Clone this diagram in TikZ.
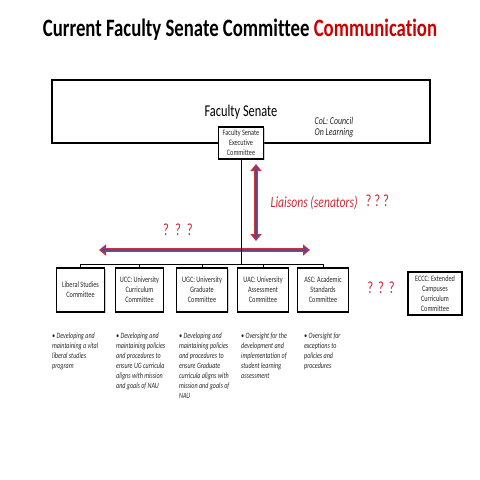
\documentclass[tikz,border=0pt]{standalone}
\usepackage{fontspec}
\setmainfont{Carlito}[Ligatures=NoCommon]
\usetikzlibrary{arrows.meta,shadows,calc}
\definecolor{tred}{RGB}{204,0,0}
\definecolor{lred}{RGB}{200,45,55}
\definecolor{arrred}{RGB}{205,50,60}
\definecolor{arrpur}{RGB}{100,70,140}
\definecolor{txtgray}{RGB}{40,40,40}
\tikzset{
  sq/.style={xscale=0.75},
  boxshadow/.style={drop shadow={shadow xshift=1.2pt,shadow yshift=-1.2pt,opacity=0.35,fill=gray}},
  cbox/.style={sq,draw=black,line width=1.1pt,fill=white,align=center,inner sep=1pt,
     font=\fontsize{8.3}{10}\selectfont,text=txtgray,boxshadow},
  bul/.style={sq,anchor=north west,align=left,inner sep=0pt,
     font=\fontsize{8.1}{10}\selectfont\itshape,text=txtgray},
  qm/.style={sq,text=lred,font=\fontsize{17}{20}\selectfont},
  conn/.style={draw=black,line width=0.9pt},
  redarr/.style={draw=arrred,line width=4.6pt,{Triangle[length=7pt,width=11pt]}-{Triangle[length=7pt,width=11pt]}},
  purarr/.style={draw=arrpur,line width=2.2pt,shorten <=1.6pt,shorten >=1.6pt,{Triangle[length=4.5pt,width=6.5pt]}-{Triangle[length=4.5pt,width=6.5pt]}}
}
\begin{document}
\begin{tikzpicture}[x=1pt,y=-1pt]
\useasboundingbox[fill=white] (0,0) rectangle (480,480);
% title
\node[sq,font=\fontsize{25}{28}\selectfont\bfseries] (title) at (240,30)
  {Current Faculty Senate Committee \textcolor{tred}{Communication}};
% faculty senate
\node[sq,draw=black,line width=1.8pt,fill=white,minimum width=504pt,minimum height=63pt,
  boxshadow,inner sep=0pt] (fs) at (241,111.5) {};
\node[sq,font=\fontsize{16.5}{18}\selectfont] (fslab) at (241,112) {Faculty Senate};
\node[sq,anchor=west,align=left,font=\fontsize{10.5}{11.5}\selectfont\itshape,text=txtgray]
  (col) at (312,127.5) {CoL: Council\\On Learning};
\node[cbox,minimum width=60pt,minimum height=32pt] (exec) at (241,143)
  {Faculty Senate\\Executive\\Committee};
% committees
\node[cbox,minimum width=65pt,minimum height=44pt] (lib) at (80.5,290) {Liberal Studies\\Committee};
\node[cbox,minimum width=63pt,minimum height=44pt] (ucc) at (139.5,290) {UCC: University\\Curriculum\\Committee};
\node[cbox,minimum width=69pt,minimum height=44pt] (ugc) at (202,290) {UGC: University\\Graduate\\Committee};
\node[cbox,minimum width=67pt,minimum height=44pt] (uac) at (263,290) {UAC: University\\Assessment\\Committee};
\node[cbox,minimum width=67pt,minimum height=44pt] (asc) at (323,290) {ASC: Academic\\Standards\\Committee};
\node[cbox,minimum width=72pt,minimum height=43pt] (eccc) at (435,293.5) {ECCC: Extended\\Campuses\\Curriculum\\Committee};
% arrows
\coordinate (va) at (256,164);
\coordinate (vb) at (256,241);
\coordinate (ha) at (99,250);
\coordinate (hb) at (310,250);
\draw[redarr] (va) -- (vb);
\draw[purarr] (va) -- (vb);
\draw[redarr] (ha) -- (hb);
\draw[purarr] (ha) -- (hb);
% tree connectors
\coordinate (bar) at (241,264);
\draw[conn] (exec.south -| bar) -- (bar);
\draw[conn] (lib.north) -- (lib.north |- bar) -- (asc.north |- bar) -- (asc.north);
\draw[conn] (ucc.north) -- (ucc.north |- bar);
\draw[conn] (ugc.north) -- (ugc.north |- bar);
\draw[conn] (uac.north) -- (uac.north |- bar);
% labels
\node[sq,text=lred,font=\fontsize{15.5}{17}\selectfont\itshape,anchor=west] (liai) at (268,203) {Liaisons (senators)};
\node[qm,anchor=west] (q1) at (363,201) {?~?~?};
\node[qm] (q2) at (178,230) {?\hspace{8pt}?\hspace{8pt}?};
\node[qm] (q3) at (381,288) {?\hspace{6.5pt}?\hspace{6.5pt}?};
% bullets
\node[bul] (b1) at (52,333) {• Developing and\\maintaining a vital\\liberal studies\\program};
\node[bul] (b2) at (116,333) {• Developing and\\maintaining policies\\and procedures to\\ensure UG curricula\\aligns with mission\\and goals of NAU};
\node[bul] (b3) at (179,333) {• Developing and\\maintaining policies\\and procedures to\\ensure Graduate\\curricula aligns with\\mission and goals of\\NAU};
\node[bul] (b4) at (241,333) {• Oversight for the\\development and\\implementation of\\student learning\\assessment};
\node[bul] (b5) at (304,333) {• Oversight for\\exceptions to\\policies and\\procedures};
\end{tikzpicture}
\end{document}
